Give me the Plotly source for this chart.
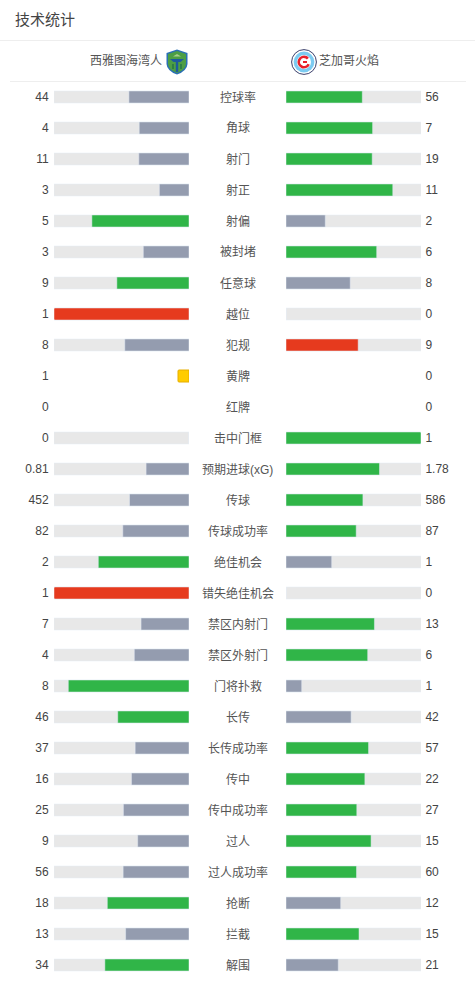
import base64
import plotly.graph_objects as go

W, H = 475, 981
FONT = "Liberation Sans, Noto Sans CJK SC, sans-serif"

title = "技术统计"
home_team = "西雅图海湾人"
away_team = "芝加哥火焰"
stats = ["控球率", "角球", "射门", "射正", "射偏", "被封堵", "任意球", "越位", "犯规", "黄牌",
         "红牌", "击中门框", "预期进球(xG)", "传球", "传球成功率", "绝佳机会", "错失绝佳机会",
         "禁区内射门", "禁区外射门", "门将扑救", "长传", "长传成功率", "传中", "传中成功率",
         "过人", "过人成功率", "抢断", "拦截", "解围"]
home = [44, 4, 11, 3, 5, 3, 9, 1, 8, 1, 0, 0, 0.81, 452, 82, 2, 1, 7, 4, 8, 46, 37, 16, 25, 9, 56, 18, 13, 34]
away = [56, 7, 19, 11, 2, 6, 8, 0, 9, 0, 0, 1, 1.78, 586, 87, 1, 0, 13, 6, 1, 42, 57, 22, 27, 15, 60, 12, 15, 21]
card_stats = ["黄牌", "红牌"]
bad_stats = ["越位", "犯规", "错失绝佳机会"]   # the higher side is drawn in red
card_home_share = 0.0815   # the yellow-card chip
FILL_PAD = 0.7 / 135       # the reference rounds its fills up by about a pixel

GREEN, GREY, RED, TRACK = "#30B548", "#949CAF", "#E63A1E", "#E8E8E8"


def colour(mine, other, stat):
    if mine > other:
        return RED if stat in bad_stats else GREEN
    return GREY


rows = [(s, h, a) for s, h, a in zip(stats, home, away) if s not in card_stats]
names = [r[0] for r in rows]
home_share = [min(1, r[1] / (r[1] + r[2]) + FILL_PAD) if r[1] else 0 for r in rows]
away_share = [min(1, r[2] / (r[1] + r[2]) + FILL_PAD) if r[2] else 0 for r in rows]
home_col = [colour(r[1], r[2], r[0]) for r in rows]
away_col = [colour(r[2], r[1], r[0]) for r in rows]

BAR_WIDTH = 12 / 31
fig = go.Figure()
common = dict(orientation="h", width=BAR_WIDTH, hoverinfo="skip", showlegend=False)
fig.add_bar(x=[1] * len(names), y=names, marker_color=TRACK, marker_cornerradius=0, xaxis="x", yaxis="y", **common)
fig.add_bar(x=[1] * len(names), y=names, marker_color=TRACK, marker_cornerradius=0, xaxis="x2", yaxis="y2", **common)
fig.add_bar(x=home_share, y=names, marker_color=home_col, marker_cornerradius=1, xaxis="x", yaxis="y", **common)
fig.add_bar(x=away_share, y=names, marker_color=away_col, marker_cornerradius=1, xaxis="x2", yaxis="y2", **common)
fig.add_bar(x=[card_home_share], y=["黄牌"], marker=dict(color="#FFCC00", line=dict(color="#E6AE00", width=1), cornerradius=1),
            xaxis="x", yaxis="y", **common)


def px_x(p):
    return p / W


def px_y(p):
    return 1 - p / H


yaxis_common = dict(type="category", categoryorder="array", categoryarray=stats, autorange=False,
                    range=[28.5, -0.5], domain=[px_y(980.5), px_y(81.5)], showgrid=False, zeroline=False,
                    showline=False, tickmode="array", tickvals=stats, ticks="outside", tickcolor="rgba(0,0,0,0)",
                    tickfont=dict(family=FONT, size=12, color="#444444"))

annotations = [dict(text=s, x=0.5, y=s, xref="paper", yref="y", showarrow=False, xanchor="center", yanchor="middle",
                    borderpad=0, yshift=-0.5, font=dict(family=FONT, size=12, color="#555555")) for s in stats]
annotations += [
    dict(text=title, x=px_x(15), y=px_y(20), xref="paper", yref="paper", showarrow=False, xanchor="left",
         yanchor="middle", borderpad=0, xshift=-1, font=dict(family=FONT, size=15, color="#444444")),
    dict(text=home_team, x=px_x(162), y=px_y(61), xref="paper", yref="paper", showarrow=False, xanchor="right",
         yanchor="middle", borderpad=0, xshift=1, font=dict(family=FONT, size=12, color="#555555")),
    dict(text=away_team, x=px_x(319), y=px_y(61), xref="paper", yref="paper", showarrow=False, xanchor="left",
         yanchor="middle", borderpad=0, xshift=-1, font=dict(family=FONT, size=12, color="#555555")),
]


def svg_uri(svg):
    return "data:image/svg+xml;base64," + base64.b64encode(svg.encode()).decode()


seattle = """<svg xmlns='http://www.w3.org/2000/svg' viewBox='0 0 22 26'>
<path d='M11 .5 L21.5 4 V15 Q21 22 11 25.5 Q1 22 .5 15 V4 Z' fill='#2A6FB5'/>
<path d='M11 2 L20 5 V15 Q19.5 21 11 24 Q2.5 21 2 15 V5 Z' fill='#4C9E45'/>
<path d='M4 10 H18 L14.5 13 H7.5 Z' fill='#1D5A9E'/><path d='M7 7.5 L11 5 L15 7.5 Z' fill='#A8D08D'/>
<path d='M9.8 13 H12.2 V23 H9.8 Z' fill='#1D5A9E'/><path d='M6 15 H8 V20 H6 Z M14 15 H16 V20 H14 Z' fill='#2F7F45'/>
</svg>"""
chicago = """<svg xmlns='http://www.w3.org/2000/svg' viewBox='0 0 26 26'>
<circle cx='13' cy='13' r='12.4' fill='#fff' stroke='#3A3F6B' stroke-width='1'/>
<circle cx='13' cy='13' r='10.4' fill='#7CCBF1'/><circle cx='13' cy='13' r='7' fill='#fff'/>
<circle cx='13' cy='13' r='5.2' fill='none' stroke='#E8202A' stroke-width='2.6' stroke-dasharray='26 7' transform='rotate(25 13 13)'/>
<rect x='12' y='12' width='4' height='2' fill='#E8202A'/>
</svg>"""

images = [
    dict(source=svg_uri(seattle), xref="paper", yref="paper", x=px_x(166), y=px_y(49), sizex=22 / W, sizey=26 / H,
         xanchor="left", yanchor="top", sizing="stretch", layer="above"),
    dict(source=svg_uri(chicago), xref="paper", yref="paper", x=px_x(291), y=px_y(49), sizex=26 / W, sizey=26 / H,
         xanchor="left", yanchor="top", sizing="stretch", layer="above"),
]
dividers = [
    dict(type="line", xref="paper", yref="paper", x0=0, x1=1, y0=px_y(40.5), y1=px_y(40.5),
         line=dict(color="#EEEEEE", width=1)),
    dict(type="line", xref="paper", yref="paper", x0=px_x(10), x1=px_x(466), y0=px_y(81.5), y1=px_y(81.5),
         line=dict(color="#EEEEEE", width=1)),
]

fig.update_layout(
    width=W, height=H, margin=dict(l=0, r=0, t=0, b=0), autosize=False,
    paper_bgcolor="#FFFFFF", plot_bgcolor="#FFFFFF", barmode="overlay", showlegend=False,
    xaxis=dict(domain=[px_x(54), px_x(189)], range=[1, 0], visible=False, fixedrange=True),
    xaxis2=dict(domain=[px_x(286), px_x(421)], range=[0, 1], visible=False, fixedrange=True),
    yaxis=dict(anchor="x", side="left", ticktext=[str(v) for v in home], ticklen=2, **yaxis_common),
    yaxis2=dict(anchor="x2", side="right", ticktext=[str(v) for v in away], ticklen=1, **yaxis_common),
    annotations=annotations, images=images, shapes=dividers,
)

fig.write_html("out.html", config={"displayModeBar": False},
               post_script="document.body.style.margin='0';")
